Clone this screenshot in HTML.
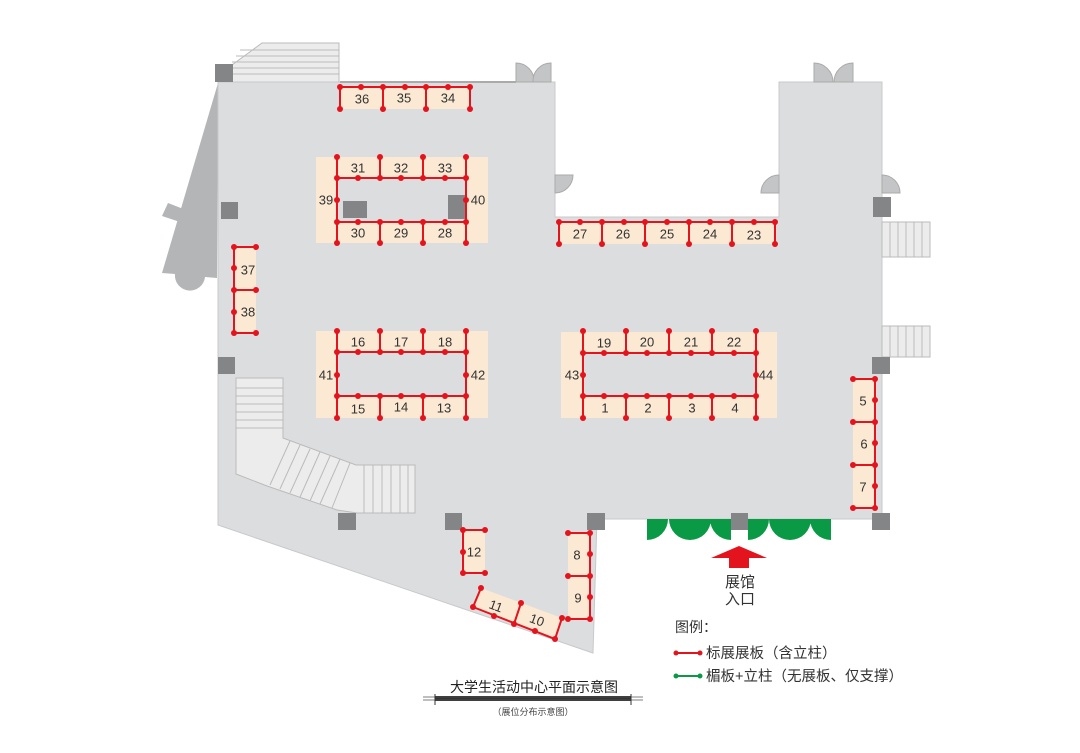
<!DOCTYPE html>
<html><head><meta charset="utf-8"><style>
html,body{margin:0;padding:0;background:#fff;}
svg{display:block;font-family:"Liberation Sans","Noto Sans CJK SC",sans-serif;}
.b{fill:#fbe9d3}
.r line,.r polyline{stroke:#e3141d;stroke-width:2;fill:none}
.r circle{fill:#e3141d}
.col{fill:#848586}
.n{font-size:13px;fill:#333;text-anchor:middle;dominant-baseline:central}
.st line{stroke:#bbb;stroke-width:1}
</style></head><body>
<svg width="1080" height="753" viewBox="0 0 1080 753" xmlns="http://www.w3.org/2000/svg">
<!-- left wedge -->
<path d="M218,83 L162,273 L175,274 A15,15 0 0 0 205,277 L217,278 Z" fill="#b4b5b7"/>
<path d="M168,203 L186,210 L180,222 L162,216 Z" fill="#b4b5b7"/>
<!-- top stairs -->
<path d="M232,65 L262,43 L339,43 L339,82 L232,82 Z" fill="#ececec" stroke="#bbb"/>
<g class="st"><line x1="240" y1="50" x2="339" y2="50"/><line x1="236" y1="56" x2="339" y2="56"/><line x1="232" y1="62" x2="339" y2="62"/><line x1="232" y1="68" x2="339" y2="68"/><line x1="232" y1="74" x2="339" y2="74"/></g>
<!-- main floor -->
<path d="M218,82 L555,82 L555,217 L779,217 L779,82 L882,82 L882,519 L597,519 L593,653 L218,525 Z" fill="#dcdddf" stroke="#c8c9cb"/>
<line x1="340" y1="82" x2="516" y2="82" stroke="#aaa" stroke-width="2"/>
<!-- doors -->
<g fill="#c4c5c7" stroke="#aaa" stroke-width="1">
<path d="M516,82 L516,63 A18,18 0 0 1 534,82 Z"/><path d="M551,82 L551,63 A18,18 0 0 0 533,82 Z"/>
<path d="M814,82 L814,63 A19,19 0 0 1 833,82 Z"/><path d="M853,82 L853,63 A19,19 0 0 0 834,82 Z"/>
<path d="M555,175 L573,175 A18,18 0 0 1 555,193 Z"/>
<path d="M779,175 L779,193 L761,193 A18,18 0 0 1 779,175 Z"/>
<path d="M882,175 L882,193 L900,193 A18,18 0 0 0 882,175 Z"/>
</g>
<!-- right stairs -->
<rect x="882" y="222" width="48" height="35" fill="#ececec" stroke="#bbb"/>
<rect x="882" y="326" width="48" height="31" fill="#ececec" stroke="#bbb"/>
<g class="st"><line x1="890" y1="222" x2="890" y2="257"/><line x1="898" y1="222" x2="898" y2="257"/><line x1="906" y1="222" x2="906" y2="257"/><line x1="914" y1="222" x2="914" y2="257"/><line x1="922" y1="222" x2="922" y2="257"/>
<line x1="890" y1="326" x2="890" y2="357"/><line x1="898" y1="326" x2="898" y2="357"/><line x1="906" y1="326" x2="906" y2="357"/><line x1="914" y1="326" x2="914" y2="357"/><line x1="922" y1="326" x2="922" y2="357"/></g>
<!-- left stairs -->
<path d="M236,378 L283,378 L283,438 L356,465 L415,465 L415,513 L357,513 L337,510 L267,486 L236,474 Z" fill="#ececec" stroke="#bbb"/>
<g class="st"><line x1="236" y1="388" x2="283" y2="388"/><line x1="236" y1="396" x2="283" y2="396"/><line x1="236" y1="404" x2="283" y2="404"/><line x1="236" y1="412" x2="283" y2="412"/><line x1="236" y1="420" x2="283" y2="420"/><line x1="236" y1="428" x2="283" y2="428"/>
<line x1="290" y1="441" x2="270" y2="485"/><line x1="300" y1="445" x2="280" y2="489"/><line x1="310" y1="449" x2="290" y2="493"/><line x1="320" y1="452" x2="300" y2="497"/><line x1="330" y1="456" x2="310" y2="501"/><line x1="340" y1="459" x2="320" y2="504"/><line x1="350" y1="463" x2="332" y2="508"/>
<line x1="364" y1="465" x2="364" y2="513"/><line x1="373" y1="465" x2="373" y2="513"/><line x1="382" y1="465" x2="382" y2="513"/><line x1="391" y1="465" x2="391" y2="513"/><line x1="400" y1="465" x2="400" y2="513"/><line x1="408" y1="465" x2="408" y2="513"/></g>
<!-- columns -->
<rect class="col" x="215" y="64" width="18" height="18"/>
<rect class="col" x="221" y="202" width="17" height="17"/>
<rect class="col" x="218" y="357" width="17" height="17"/>
<rect class="col" x="338" y="513" width="18" height="17"/>
<rect class="col" x="445" y="513" width="17" height="17"/>
<rect class="col" x="587" y="513" width="18" height="17"/>
<rect class="col" x="731" y="513" width="17" height="17"/>
<rect class="col" x="872" y="513" width="18" height="17"/>
<rect class="col" x="872" y="357" width="18" height="17"/>
<rect class="col" x="873" y="197" width="18" height="20"/>
<!-- beige -->
<rect class="b" x="340" y="87" width="130" height="22"/>
<rect class="b" x="316" y="157" width="172" height="86"/>
<rect class="b" x="316" y="331" width="172" height="87"/>
<rect class="b" x="561" y="332" width="216" height="86"/>
<rect class="b" x="559" y="222" width="216" height="22"/>
<rect class="b" x="234" y="247" width="22" height="86"/>
<rect class="b" x="853" y="379" width="22" height="129"/>
<rect class="b" x="568" y="533" width="22" height="86"/>
<rect class="b" x="463" y="530" width="22" height="43"/>
<polygon class="b" points="481,588 562,618 555,639 473,607"/>
<rect fill="#dcdddf" x="337" y="178" width="129" height="44"/>
<rect fill="#dcdddf" x="337" y="352" width="129" height="44"/>
<rect fill="#dcdddf" x="583" y="353" width="173" height="43"/>
<rect class="col" x="343" y="201" width="24" height="17"/>
<rect class="col" x="448" y="195" width="17" height="24"/>
<!-- red booths -->
<g class="r">
<line x1="340" y1="87" x2="470" y2="87"/>
<line x1="340" y1="87" x2="340" y2="109"/><line x1="383" y1="87" x2="383" y2="109"/><line x1="426" y1="87" x2="426" y2="109"/><line x1="470" y1="87" x2="470" y2="109"/>
<circle cx="340" cy="87" r="3"/><circle cx="361" cy="87" r="3"/><circle cx="383" cy="87" r="3"/><circle cx="405" cy="87" r="3"/><circle cx="426" cy="87" r="3"/><circle cx="448" cy="87" r="3"/><circle cx="470" cy="87" r="3"/>
<circle cx="340" cy="109" r="3"/><circle cx="383" cy="109" r="3"/><circle cx="426" cy="109" r="3"/><circle cx="470" cy="109" r="3"/>

<rect x="337" y="178" width="129" height="44" fill="none" stroke="#e3141d" stroke-width="2"/>
<line x1="337" y1="157" x2="337" y2="243"/><line x1="380" y1="157" x2="380" y2="178"/><line x1="423" y1="157" x2="423" y2="178"/><line x1="466" y1="157" x2="466" y2="243"/>
<line x1="380" y1="222" x2="380" y2="243"/><line x1="423" y1="222" x2="423" y2="243"/>
<circle cx="337" cy="157" r="3"/><circle cx="380" cy="157" r="3"/><circle cx="423" cy="157" r="3"/><circle cx="466" cy="157" r="3"/>
<circle cx="337" cy="178" r="3"/><circle cx="358" cy="178" r="3"/><circle cx="380" cy="178" r="3"/><circle cx="401" cy="178" r="3"/><circle cx="423" cy="178" r="3"/><circle cx="445" cy="178" r="3"/><circle cx="466" cy="178" r="3"/>
<circle cx="337" cy="200" r="3"/><circle cx="466" cy="200" r="3"/>
<circle cx="337" cy="222" r="3"/><circle cx="358" cy="222" r="3"/><circle cx="380" cy="222" r="3"/><circle cx="401" cy="222" r="3"/><circle cx="423" cy="222" r="3"/><circle cx="445" cy="222" r="3"/><circle cx="466" cy="222" r="3"/>
<circle cx="337" cy="243" r="3"/><circle cx="380" cy="243" r="3"/><circle cx="423" cy="243" r="3"/><circle cx="466" cy="243" r="3"/>

<rect x="337" y="352" width="129" height="44" fill="none" stroke="#e3141d" stroke-width="2"/>
<line x1="337" y1="331" x2="337" y2="418"/><line x1="380" y1="331" x2="380" y2="352"/><line x1="423" y1="331" x2="423" y2="352"/><line x1="466" y1="331" x2="466" y2="418"/>
<line x1="380" y1="396" x2="380" y2="418"/><line x1="423" y1="396" x2="423" y2="418"/>
<circle cx="337" cy="331" r="3"/><circle cx="380" cy="331" r="3"/><circle cx="423" cy="331" r="3"/><circle cx="466" cy="331" r="3"/>
<circle cx="337" cy="352" r="3"/><circle cx="358" cy="352" r="3"/><circle cx="380" cy="352" r="3"/><circle cx="401" cy="352" r="3"/><circle cx="423" cy="352" r="3"/><circle cx="445" cy="352" r="3"/><circle cx="466" cy="352" r="3"/>
<circle cx="337" cy="375" r="3"/><circle cx="466" cy="375" r="3"/>
<circle cx="337" cy="396" r="3"/><circle cx="358" cy="396" r="3"/><circle cx="380" cy="396" r="3"/><circle cx="401" cy="396" r="3"/><circle cx="423" cy="396" r="3"/><circle cx="445" cy="396" r="3"/><circle cx="466" cy="396" r="3"/>
<circle cx="337" cy="418" r="3"/><circle cx="380" cy="418" r="3"/><circle cx="423" cy="418" r="3"/><circle cx="466" cy="418" r="3"/>

<rect x="583" y="353" width="173" height="43" fill="none" stroke="#e3141d" stroke-width="2"/>
<line x1="583" y1="331" x2="583" y2="418"/><line x1="626" y1="331" x2="626" y2="353"/><line x1="669" y1="331" x2="669" y2="353"/><line x1="712" y1="331" x2="712" y2="353"/><line x1="756" y1="331" x2="756" y2="418"/>
<line x1="626" y1="396" x2="626" y2="418"/><line x1="669" y1="396" x2="669" y2="418"/><line x1="712" y1="396" x2="712" y2="418"/>
<circle cx="583" cy="331" r="3"/><circle cx="626" cy="331" r="3"/><circle cx="669" cy="331" r="3"/><circle cx="712" cy="331" r="3"/><circle cx="756" cy="331" r="3"/>
<circle cx="583" cy="353" r="3"/><circle cx="604" cy="353" r="3"/><circle cx="626" cy="353" r="3"/><circle cx="647" cy="353" r="3"/><circle cx="669" cy="353" r="3"/><circle cx="691" cy="353" r="3"/><circle cx="712" cy="353" r="3"/><circle cx="734" cy="353" r="3"/><circle cx="756" cy="353" r="3"/>
<circle cx="583" cy="375" r="3"/><circle cx="756" cy="375" r="3"/>
<circle cx="583" cy="396" r="3"/><circle cx="604" cy="396" r="3"/><circle cx="626" cy="396" r="3"/><circle cx="647" cy="396" r="3"/><circle cx="669" cy="396" r="3"/><circle cx="691" cy="396" r="3"/><circle cx="712" cy="396" r="3"/><circle cx="734" cy="396" r="3"/><circle cx="756" cy="396" r="3"/>
<circle cx="583" cy="418" r="3"/><circle cx="626" cy="418" r="3"/><circle cx="669" cy="418" r="3"/><circle cx="712" cy="418" r="3"/><circle cx="756" cy="418" r="3"/>

<line x1="559" y1="222" x2="775" y2="222"/>
<line x1="559" y1="222" x2="559" y2="244"/><line x1="602" y1="222" x2="602" y2="244"/><line x1="645" y1="222" x2="645" y2="244"/><line x1="689" y1="222" x2="689" y2="244"/><line x1="732" y1="222" x2="732" y2="244"/><line x1="775" y1="222" x2="775" y2="244"/>
<circle cx="559" cy="222" r="3"/><circle cx="580" cy="222" r="3"/><circle cx="602" cy="222" r="3"/><circle cx="624" cy="222" r="3"/><circle cx="645" cy="222" r="3"/><circle cx="667" cy="222" r="3"/><circle cx="689" cy="222" r="3"/><circle cx="710" cy="222" r="3"/><circle cx="732" cy="222" r="3"/><circle cx="754" cy="222" r="3"/><circle cx="775" cy="222" r="3"/>
<circle cx="559" cy="244" r="3"/><circle cx="602" cy="244" r="3"/><circle cx="645" cy="244" r="3"/><circle cx="689" cy="244" r="3"/><circle cx="732" cy="244" r="3"/><circle cx="775" cy="244" r="3"/>

<line x1="234" y1="247" x2="234" y2="333"/><line x1="234" y1="247" x2="256" y2="247"/><line x1="234" y1="290" x2="256" y2="290"/><line x1="234" y1="333" x2="256" y2="333"/>
<circle cx="234" cy="247" r="3"/><circle cx="256" cy="247" r="3"/><circle cx="234" cy="268" r="3"/><circle cx="234" cy="290" r="3"/><circle cx="256" cy="290" r="3"/><circle cx="234" cy="312" r="3"/><circle cx="234" cy="333" r="3"/><circle cx="256" cy="333" r="3"/>

<line x1="875" y1="379" x2="875" y2="508"/><line x1="853" y1="379" x2="875" y2="379"/><line x1="853" y1="422" x2="875" y2="422"/><line x1="853" y1="465" x2="875" y2="465"/><line x1="853" y1="508" x2="875" y2="508"/>
<circle cx="853" cy="379" r="3"/><circle cx="875" cy="379" r="3"/><circle cx="875" cy="400" r="3"/><circle cx="853" cy="422" r="3"/><circle cx="875" cy="422" r="3"/><circle cx="875" cy="443" r="3"/><circle cx="853" cy="465" r="3"/><circle cx="875" cy="465" r="3"/><circle cx="875" cy="486" r="3"/><circle cx="853" cy="508" r="3"/><circle cx="875" cy="508" r="3"/>

<line x1="590" y1="533" x2="590" y2="619"/><line x1="568" y1="533" x2="590" y2="533"/><line x1="568" y1="576" x2="590" y2="576"/><line x1="568" y1="619" x2="590" y2="619"/>
<circle cx="568" cy="533" r="3"/><circle cx="590" cy="533" r="3"/><circle cx="590" cy="554" r="3"/><circle cx="568" cy="576" r="3"/><circle cx="590" cy="576" r="3"/><circle cx="590" cy="597" r="3"/><circle cx="568" cy="619" r="3"/><circle cx="590" cy="619" r="3"/>

<line x1="463" y1="530" x2="463" y2="573"/><line x1="463" y1="530" x2="485" y2="530"/><line x1="463" y1="573" x2="485" y2="573"/>
<circle cx="463" cy="530" r="3"/><circle cx="485" cy="530" r="3"/><circle cx="463" cy="552" r="3"/><circle cx="463" cy="573" r="3"/><circle cx="485" cy="573" r="3"/>

<polyline points="481,588 473,607 555,639 562,618"/><line x1="514" y1="624" x2="521" y2="603"/>
<circle cx="481" cy="588" r="3"/><circle cx="473" cy="607" r="3"/><circle cx="494" cy="616" r="3"/><circle cx="514" cy="624" r="3"/><circle cx="521" cy="603" r="3"/><circle cx="535" cy="631" r="3"/><circle cx="555" cy="639" r="3"/><circle cx="562" cy="618" r="3"/>
</g>
<!-- labels -->
<g class="n">
<text x="362" y="99">36</text><text x="404" y="98">35</text><text x="448" y="98">34</text>
<text x="358" y="168">31</text><text x="401" y="168">32</text><text x="445" y="168">33</text>
<text x="326" y="200">39</text><text x="478" y="200">40</text>
<text x="358" y="233">30</text><text x="401" y="233">29</text><text x="445" y="233">28</text>
<text x="580" y="234">27</text><text x="623" y="234">26</text><text x="667" y="234">25</text><text x="710" y="234">24</text><text x="754" y="235">23</text>
<text x="248" y="270">37</text><text x="248" y="312">38</text>
<text x="358" y="342">16</text><text x="401" y="342">17</text><text x="445" y="342">18</text>
<text x="326" y="375">41</text><text x="478" y="375">42</text>
<text x="358" y="409">15</text><text x="401" y="407">14</text><text x="444" y="408">13</text>
<text x="604" y="343">19</text><text x="647" y="342">20</text><text x="691" y="342">21</text><text x="734" y="342">22</text>
<text x="572" y="375">43</text><text x="766" y="375">44</text>
<text x="605" y="408">1</text><text x="648" y="408">2</text><text x="692" y="408">3</text><text x="735" y="408">4</text>
<text x="863" y="401">5</text><text x="864" y="444">6</text><text x="863" y="487">7</text>
<text x="577" y="555">8</text><text x="578" y="598">9</text>
<text x="474" y="552">12</text>
<text x="496" y="606" transform="rotate(20 496 606)">11</text><text x="537" y="620" transform="rotate(20 537 620)">10</text>
</g>
<!-- green entrance -->
<g fill="#0a9a45">
<path d="M647,519 L668,519 A21,21 0 0 1 647,540 Z"/><path d="M690,519 L669,519 A21,21 0 0 0 690,540 Z"/>
<path d="M690,519 L711,519 A21,21 0 0 1 690,540 Z"/><path d="M731,519 L710,519 A21,21 0 0 0 731,540 Z"/>
<path d="M748,519 L769,519 A21,21 0 0 1 748,540 Z"/><path d="M790,519 L769,519 A21,21 0 0 0 790,540 Z"/>
<path d="M790,519 L811,519 A21,21 0 0 1 790,540 Z"/><path d="M831,519 L810,519 A21,21 0 0 0 831,540 Z"/>
</g>
<!-- arrow -->
<polygon points="739,546 767,558 749,558 749,568 729,568 729,558 711,558" fill="#e3141d"/>
<text x="740" y="587" font-size="15" fill="#333" text-anchor="middle">展馆</text>
<text x="740" y="604" font-size="15" fill="#333" text-anchor="middle">入口</text>
<!-- legend -->
<text x="675" y="632" font-size="14" fill="#333">图例：</text>
<line x1="676" y1="653" x2="700" y2="653" stroke="#e3141d" stroke-width="2"/><circle cx="676" cy="653" r="2.5" fill="#e3141d"/><circle cx="700" cy="653" r="2.5" fill="#e3141d"/>
<text x="706" y="658" font-size="14.5" fill="#333">标展展板（含立柱）</text>
<line x1="676" y1="676" x2="700" y2="676" stroke="#0a9a45" stroke-width="2"/><circle cx="676" cy="676" r="2.5" fill="#0a9a45"/><circle cx="700" cy="676" r="2.5" fill="#0a9a45"/>
<text x="706" y="681" font-size="14.5" fill="#333">楣板+立柱（无展板、仅支撑）</text>
<!-- title -->
<text x="534" y="692" font-size="14" fill="#222" text-anchor="middle">大学生活动中心平面示意图</text>
<rect x="435" y="696" width="196" height="5" fill="#333"/>
<line x1="423" y1="697" x2="643" y2="697" stroke="#555" stroke-width="0.8"/>
<line x1="423" y1="700" x2="643" y2="700" stroke="#555" stroke-width="0.8"/>
<line x1="435" y1="694" x2="435" y2="705" stroke="#333"/><line x1="631" y1="694" x2="631" y2="705" stroke="#333"/>
<text x="533" y="715" font-size="9" fill="#444" text-anchor="middle">（展位分布示意图）</text>
</svg>
</body></html>
